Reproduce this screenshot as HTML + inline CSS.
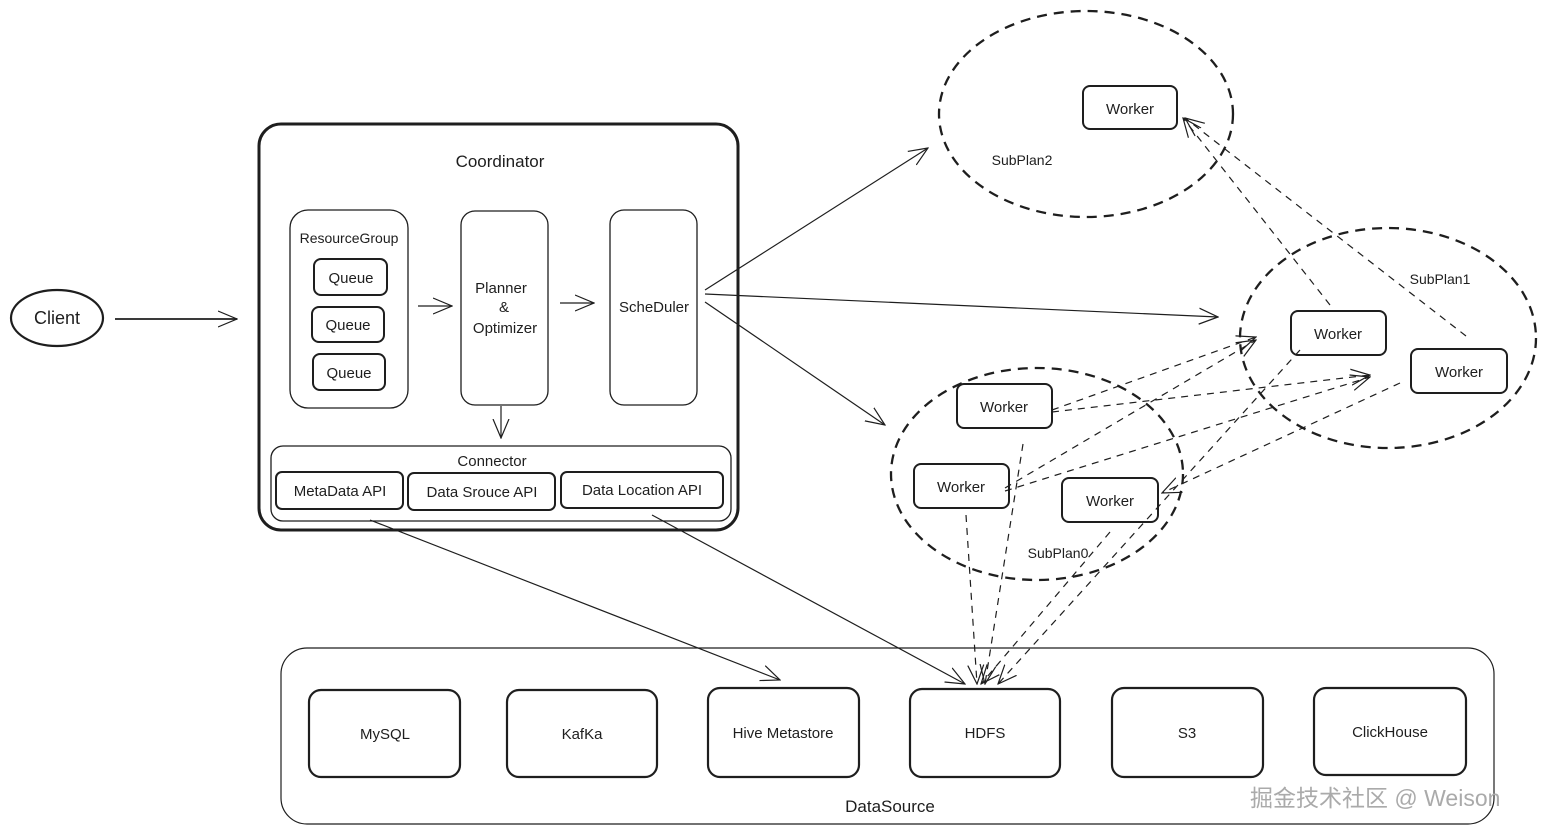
<!DOCTYPE html>
<html><head><meta charset="utf-8"><style>
html,body{margin:0;padding:0;background:#fff;}
svg{display:block;}
text{font-family:"Liberation Sans",sans-serif;fill:#1e1e1e;}
</style></head><body>
<svg width="1544" height="835" viewBox="0 0 1544 835" xmlns="http://www.w3.org/2000/svg">
<defs>
<marker id="a" viewBox="0 0 20 20" refX="19" refY="10" markerWidth="20" markerHeight="20" markerUnits="userSpaceOnUse" orient="auto">
<path d="M0,2 L19,10 L0,18" fill="none" stroke="#1e1e1e" stroke-width="1.2"/>
</marker>
</defs>
<g fill="none" stroke="#1e1e1e">
<!-- client -->
<ellipse cx="57" cy="318" rx="46" ry="28" stroke-width="2.2"/>
<line x1="115" y1="319" x2="237" y2="319" stroke-width="1.8" marker-end="url(#a)"/>
<!-- coordinator -->
<rect x="259" y="124" width="479" height="406" rx="22" stroke-width="3"/>
<rect x="290" y="210" width="118" height="198" rx="18" stroke-width="1.3"/>
<rect x="314" y="259" width="73" height="36" rx="7" stroke-width="2"/>
<rect x="312" y="307" width="72" height="35" rx="7" stroke-width="2"/>
<rect x="313" y="354" width="72" height="36" rx="7" stroke-width="2"/>
<rect x="461" y="211" width="87" height="194" rx="14" stroke-width="1.3"/>
<rect x="610" y="210" width="87" height="195" rx="14" stroke-width="1.3"/>
<line x1="418" y1="306" x2="452" y2="306" stroke-width="1.2" marker-end="url(#a)"/>
<line x1="560" y1="303" x2="594" y2="303" stroke-width="1.2" marker-end="url(#a)"/>
<line x1="501" y1="406" x2="501" y2="438" stroke-width="1.2" marker-end="url(#a)"/>
<rect x="271" y="446" width="460" height="75" rx="12" stroke-width="1.3"/>
<rect x="276" y="472" width="127" height="37" rx="6" stroke-width="2"/>
<rect x="408" y="473" width="147" height="37" rx="6" stroke-width="2"/>
<rect x="561" y="472" width="162" height="36" rx="6" stroke-width="2"/>
<!-- scheduler arrows -->
<line x1="705" y1="290" x2="928" y2="148" stroke-width="1.2" marker-end="url(#a)"/>
<line x1="705" y1="294" x2="1218" y2="317" stroke-width="1.2" marker-end="url(#a)"/>
<line x1="705" y1="302" x2="885" y2="425" stroke-width="1.2" marker-end="url(#a)"/>
<!-- connector to datasource -->
<line x1="370" y1="520" x2="780" y2="680" stroke-width="1.2" marker-end="url(#a)"/>
<line x1="652" y1="515" x2="965" y2="684" stroke-width="1.2" marker-end="url(#a)"/>
<!-- subplans -->
<g stroke-width="2.3" stroke-dasharray="10 7">
<ellipse cx="1086" cy="114" rx="147" ry="103"/>
<ellipse cx="1388" cy="338" rx="148" ry="110"/>
<ellipse cx="1037" cy="474" rx="146" ry="106"/>
</g>
<!-- workers -->
<g stroke-width="2">
<rect x="1083" y="86" width="94" height="43" rx="7"/>
<rect x="1291" y="311" width="95" height="44" rx="7"/>
<rect x="1411" y="349" width="96" height="44" rx="7"/>
<rect x="957" y="384" width="95" height="44" rx="7"/>
<rect x="914" y="464" width="95" height="44" rx="7"/>
<rect x="1062" y="478" width="96" height="44" rx="7"/>
</g>
<!-- dashed connections -->
<g stroke-width="1.2" stroke-dasharray="7 6">
<line x1="1330" y1="305" x2="1183" y2="118" marker-end="url(#a)"/>
<line x1="1466" y1="336" x2="1185" y2="118" marker-end="url(#a)"/>
<line x1="1052" y1="410" x2="1256" y2="337" marker-end="url(#a)"/>
<line x1="1052" y1="412" x2="1370" y2="375" marker-end="url(#a)"/>
<line x1="1005" y1="488" x2="1256" y2="340" marker-end="url(#a)"/>
<line x1="1005" y1="491" x2="1370" y2="377" marker-end="url(#a)"/>
<line x1="1400" y1="383" x2="1162" y2="493" marker-end="url(#a)"/>
<line x1="1300" y1="350" x2="998" y2="684" marker-end="url(#a)"/>
<line x1="1023" y1="444" x2="985" y2="684" marker-end="url(#a)"/>
<line x1="966" y1="515" x2="977" y2="684" marker-end="url(#a)"/>
<line x1="1110" y1="532" x2="981" y2="684" marker-end="url(#a)"/>
</g>
<!-- datasource -->
<rect x="281" y="648" width="1213" height="176" rx="26" stroke-width="1.2"/>
<g stroke-width="2.2">
<rect x="309" y="690" width="151" height="87" rx="12"/>
<rect x="507" y="690" width="150" height="87" rx="12"/>
<rect x="708" y="688" width="151" height="89" rx="12"/>
<rect x="910" y="689" width="150" height="88" rx="12"/>
<rect x="1112" y="688" width="151" height="89" rx="12"/>
<rect x="1314" y="688" width="152" height="87" rx="12"/>
</g>
</g>
<g text-anchor="middle" font-size="15">
<text x="57" y="324" font-size="18">Client</text>
<text x="500" y="167" font-size="17">Coordinator</text>
<text x="349" y="243" font-size="14">ResourceGroup</text>
<text x="351" y="283">Queue</text>
<text x="348" y="330">Queue</text>
<text x="349" y="378">Queue</text>
<text x="501" y="293">Planner</text>
<text x="504" y="312">&amp;</text>
<text x="505" y="333">Optimizer</text>
<text x="654" y="312">ScheDuler</text>
<text x="492" y="466">Connector</text>
<text x="340" y="496">MetaData API</text>
<text x="482" y="497">Data Srouce API</text>
<text x="642" y="495">Data Location API</text>
<text x="1130" y="114">Worker</text>
<text x="1338" y="339">Worker</text>
<text x="1459" y="377">Worker</text>
<text x="1004" y="412">Worker</text>
<text x="961" y="492">Worker</text>
<text x="1110" y="506">Worker</text>
<text x="1022" y="165" font-size="14">SubPlan2</text>
<text x="1440" y="284" font-size="14">SubPlan1</text>
<text x="1058" y="558" font-size="14">SubPlan0</text>
<text x="385" y="739">MySQL</text>
<text x="582" y="739">KafKa</text>
<text x="783" y="738">Hive Metastore</text>
<text x="985" y="738">HDFS</text>
<text x="1187" y="738">S3</text>
<text x="1390" y="737">ClickHouse</text>
<text x="890" y="812" font-size="17">DataSource</text>
</g>
<text x="1250" y="806" font-size="23" style="fill:#aaa;font-family:'Liberation Sans','Noto Sans CJK SC',sans-serif">掘金技术社区 @ Weison</text>
</svg>
</body></html>
